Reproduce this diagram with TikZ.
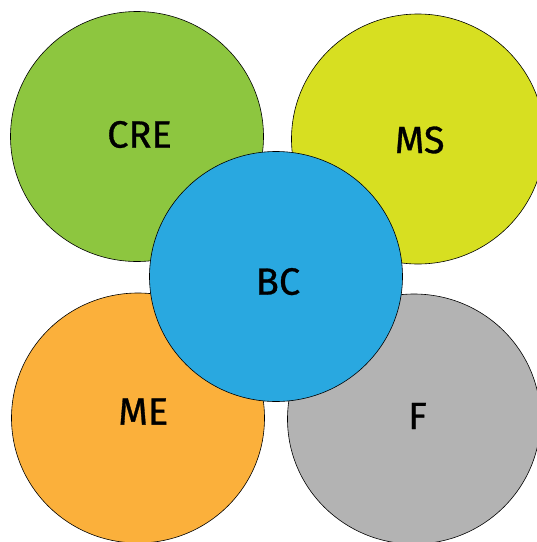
\documentclass[tikz,border=0pt]{standalone}
\usepackage{fontspec}
\setmainfont{Fira Sans}
\newfontfamily\lblfont{Fira Sans}[FakeBold=0.8]
\usetikzlibrary{shapes.geometric}
\definecolor{cgreen}{HTML}{8DC63F}
\definecolor{cyellow}{HTML}{D7DF21}
\definecolor{cblue}{HTML}{29A8E0}
\definecolor{corange}{HTML}{FBB03B}
\definecolor{cgray}{HTML}{B3B3B3}
\tikzset{
  blob/.style={ellipse, draw=black, line width=0.6pt, minimum width=253pt, minimum height=250pt, inner sep=0pt},
  lbl/.style={font=\lblfont\fontsize{38}{40}\selectfont, inner sep=0pt, text=black}
}
\begin{document}
\begin{tikzpicture}[x=1pt,y=-1pt]
\useasboundingbox (0,0) rectangle (537,542);
\node[blob, fill=cgreen] (cre) at (137,136.5) {};
\node[blob, fill=cyellow] (ms) at (418,139) {};
\node[blob, fill=corange] (me) at (138,418) {};
\node[blob, fill=cgray] (f) at (414,419) {};
\node[blob, fill=cblue] (bc) at (276,276.5) {};
\node[lbl] (tcre) at (139.5,134.5) {CRE};
\node[lbl] (tms) at (419.7,140) {MS};
\node[lbl] (tbc) at (278,281.6) {BC};
\node[lbl] (tme) at (143.3,411.5) {ME};
\node[lbl] (tf) at (417.5,416) {F};
\end{tikzpicture}
\end{document}
